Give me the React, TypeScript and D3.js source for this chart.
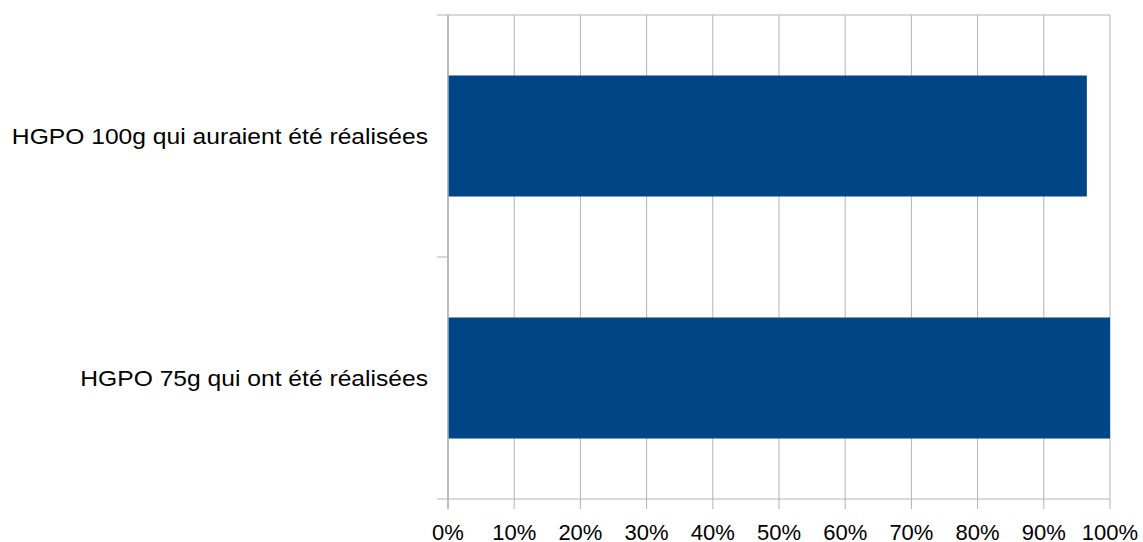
import React from "react";
import * as d3 from "d3";

const categories = ["HGPO 100g qui auraient été réalisées", "HGPO 75g qui ont été réalisées"];
const values = [0.965, 1.0];
const xTicks = [0, 0.1, 0.2, 0.3, 0.4, 0.5, 0.6, 0.7, 0.8, 0.9, 1.0];

const W = 1143;
const H = 542;
const left = 448;
const right = 1110;
const top = 15;
const bottom = 499;

export default function App() {
  const x = d3.scaleLinear().domain([0, 1]).range([left, right]);
  const y = d3.scaleBand<string>().domain(categories).range([top, bottom]).paddingInner(0.5).paddingOuter(0.25);
  const yb = d3.scaleBand<string>().domain(categories).range([top, bottom]);
  const fmt = d3.format(".0%");
  const grid = "#b3b3b3";
  const font = "'Liberation Sans', Arial, sans-serif";
  const boundaries = [top, ...categories.map((c) => (yb(c) as number) + yb.bandwidth())];
  return (
    <svg width={W} height={H} style={{ position: "absolute", left: 0, top: 0, background: "#fff" }}>
      {xTicks.map((t) => (
        <line key={"g" + t} x1={x(t)} x2={x(t)} y1={top} y2={bottom + 10} stroke={grid} strokeWidth={1} />
      ))}
      {boundaries.map((b, i) => (
        <line key={"h" + i} x1={left - 11} x2={i === 1 ? left : right} y1={b} y2={b} stroke={grid} strokeWidth={1} />
      ))}
      {categories.map((c, i) => (
        <rect key={c} x={x(0)} y={y(c)} width={x(values[i]) - x(0)} height={y.bandwidth()} fill="#004586" />
      ))}
      <line x1={left} x2={left} y1={top} y2={bottom + 10} stroke={grid} strokeWidth={1.5} />
      {categories.map((c) => (
        <text
          key={"t" + c}
          transform={`translate(428,${(yb(c) as number) + yb.bandwidth() / 2}) scale(1.12,1)`}
          dy="0.35em"
          textAnchor="end"
          fontFamily={font}
          fontSize={22}
          fill="#000"
        >
          {c}
        </text>
      ))}
      {xTicks.map((t) => (
        <text key={"l" + t} x={x(t)} y={540} textAnchor="middle" fontFamily={font} fontSize={22} fill="#000">
          {fmt(t)}
        </text>
      ))}
    </svg>
  );
}
